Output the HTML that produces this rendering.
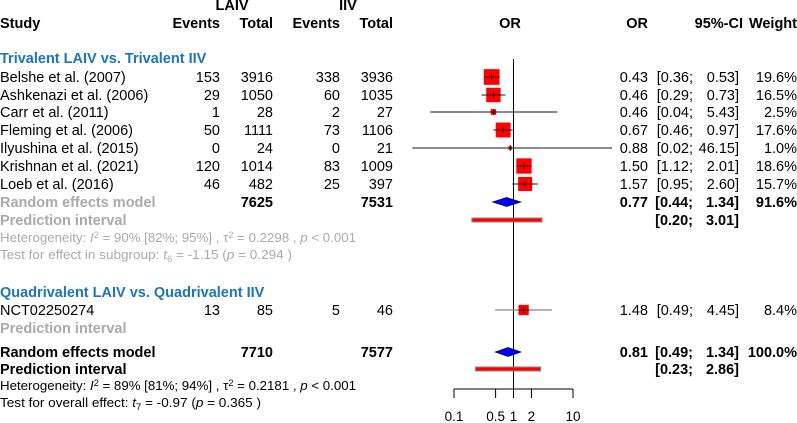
<!DOCTYPE html>
<html><head><meta charset="utf-8"><style>
html,body{margin:0;padding:0;background:#fff;}
svg{display:block;font-family:"Liberation Sans",Arial,sans-serif;}
</style></head><body>
<svg id="plot" width="797" height="423" viewBox="0 0 797 423" xmlns="http://www.w3.org/2000/svg">
<g id="hdr" font-size="14.5" font-weight="bold" fill="#000">
<text x="232" y="10" text-anchor="middle">LAIV</text>
<text x="348" y="10" text-anchor="middle">IIV</text>
<text x="0" y="28">Study</text>
<text x="220" y="28" text-anchor="end">Events</text>
<text x="273" y="28" text-anchor="end">Total</text>
<text x="340" y="28" text-anchor="end">Events</text>
<text x="393" y="28" text-anchor="end">Total</text>
<text x="510" y="28" text-anchor="middle">OR</text>
<text x="648" y="28" text-anchor="end">OR</text>
<text x="743" y="28" text-anchor="end">95%-CI</text>
<text x="797" y="28" text-anchor="end">Weight</text>
</g>
<g id="body"></g>
</svg>
<script>
const studies = ["Belshe et al. (2007)","Ashkenazi et al. (2006)","Carr et al. (2011)","Fleming et al. (2006)","Ilyushina et al. (2015)","Krishnan et al. (2021)","Loeb et al. (2016)","NCT02250274"];
const laivEvents = [153,29,1,50,0,120,46,13];
const laivTotal = [3916,1050,28,1111,24,1014,482,85];
const iivEvents = [338,60,2,73,0,83,25,5];
const iivTotal = [3936,1035,27,1106,21,1009,397,46];
const orVals = [0.43,0.46,0.46,0.67,0.88,1.50,1.57,1.48];
const ciLow = [0.36,0.29,0.04,0.46,0.02,1.12,0.95,0.49];
const ciHigh = [0.53,0.73,5.43,0.97,46.15,2.01,2.60,4.45];
const weights = [19.6,16.5,2.5,17.6,1.0,18.6,15.7,8.4];
const rowY = [77,95,112,130,148,166,184,310];
const pooledOR = [0.77,0.81];
const pooledLow = [0.44,0.49];
const pooledHigh = [1.34,1.34];
const pooledW = ["91.6%","100.0%"];
const pooledTotLaiv = [7625,7710];
const pooledTotIiv = [7531,7577];
const pooledY = [202,352];
const predLow = [0.20,0.23];
const predHigh = [3.01,2.86];
const predY = [220,369];
const ticks = [0.1,0.5,1,2,10];
const tickLabels = ["0.1","0.5","1","2","10"];

const NS="http://www.w3.org/2000/svg";
const g=document.getElementById('body');
const X=v=>513.5+59.5*Math.log10(v);
function el(tag,attrs,txt){const e=document.createElementNS(NS,tag);for(const k in attrs)e.setAttribute(k,attrs[k]);if(txt!==undefined)e.textContent=txt;g.appendChild(e);return e;}
function T(x,y,s,o){o=o||{};const a={x:x,y:y,'font-size':o.fs||14.5,fill:o.fill||'#000'};if(o.anchor)a['text-anchor']=o.anchor;if(o.bold)a['font-weight']='bold';return el('text',a,s);}
const f2=v=>v.toFixed(2);

let ln=el('line',{x1:X(1),x2:X(1),y1:59,y2:389,stroke:'#000','stroke-width':1});



let t=T(0,63,'Trivalent LAIV vs. Trivalent IIV',{bold:1,fill:'#1b75bc'});


t=T(0,297,'Quadrivalent LAIV vs. Quadrivalent IIV',{bold:1,fill:'#1b75bc'});



for(let i=0;i<studies.length;i++){
  const y=rowY[i], b=y+5;
  t=T(0,b,studies[i]);
  
  
  T(220,b,String(laivEvents[i]),{anchor:'end'});
  T(273,b,String(laivTotal[i]),{anchor:'end'});
  T(340,b,String(iivEvents[i]),{anchor:'end'});
  T(393,b,String(iivTotal[i]),{anchor:'end'});
  T(648,b,f2(orVals[i]),{anchor:'end'});
  T(693,b,'['+f2(ciLow[i])+';',{anchor:'end'});
  T(739,b,f2(ciHigh[i])+']',{anchor:'end'});
  T(797,b,weights[i].toFixed(1)+'%',{anchor:'end'});
  const x1=Math.max(X(ciLow[i]),407), x2=Math.min(X(ciHigh[i]),612);
  const ci=el('line',{x1:x1,x2:x2,y1:y,y2:y,stroke:i==7?'#888':'#444','stroke-width':1.2});
  
  
  const s=3.55*Math.sqrt(weights[i]);
  const bx=el('rect',{x:X(orVals[i])-s/2,y:y-s/2,width:s,height:s,fill:'#ff0000'});
  
  
  el('line',{x1:X(orVals[i])-s/2,x2:X(orVals[i])+s/2,y1:y,y2:y,stroke:'#000','stroke-width':0.8});
  el('line',{x1:X(orVals[i]),x2:X(orVals[i]),y1:y-3,y2:y+3,stroke:'#000','stroke-width':0.8});
}

for(let j=0;j<2;j++){
  const y=pooledY[j], b=y+5, grey=j==0;
  const c=grey?'#aaaaaa':'#000';
  t=T(0,b,'Random effects model',{bold:1,fill:c});
  
  
  T(273,b,String(pooledTotLaiv[j]),{anchor:'end',bold:1});
  T(393,b,String(pooledTotIiv[j]),{anchor:'end',bold:1});
  T(648,b,f2(pooledOR[j]),{anchor:'end',bold:1});
  T(693,b,'['+f2(pooledLow[j])+';',{anchor:'end',bold:1});
  T(739,b,f2(pooledHigh[j])+']',{anchor:'end',bold:1});
  T(797,b,pooledW[j],{anchor:'end',bold:1});
  const d=el('polygon',{points:`${X(pooledLow[j])},${y} ${X(pooledOR[j])},${y-4.5} ${X(pooledHigh[j])},${y} ${X(pooledOR[j])},${y+4.5}`,fill:'#0000ff',stroke:'#000','stroke-width':0.6});
  
  
  const py=predY[j];
  t=T(0,py+5,'Prediction interval',{bold:1,fill:c});
  
  
  T(693,py+5,'['+f2(predLow[j])+';',{anchor:'end',bold:1});
  T(739,py+5,f2(predHigh[j])+']',{anchor:'end',bold:1});
  const pr=el('rect',{x:X(predLow[j]),y:py-2,width:X(predHigh[j])-X(predLow[j]),height:4,fill:'#ff0000',stroke:'#888','stroke-width':1});
  
  
}
t=T(0,333,'Prediction interval',{bold:1,fill:'#aaaaaa'});



function stat(y,html,len,fill){const e=document.createElementNS(NS,'text');e.setAttribute('x',0);e.setAttribute('y',y);e.setAttribute('font-size',13);e.setAttribute('fill',fill);e.setAttribute('textLength',len);e.setAttribute('lengthAdjust','spacingAndGlyphs');e.innerHTML=html;g.appendChild(e);return e;}
t=stat(242,'Heterogeneity:  <tspan font-style="italic">I</tspan><tspan dy="-4" font-size="9">2</tspan><tspan dy="4"> = 90% [82%; 95%] , τ</tspan><tspan dy="-4" font-size="9">2</tspan><tspan dy="4"> = 0.2298 , </tspan><tspan font-style="italic">p</tspan> &lt; 0.001',356,'#aaaaaa');


t=stat(259,'Test for effect in subgroup:   <tspan font-style="italic">t</tspan><tspan dy="3" font-size="9">6</tspan><tspan dy="-3"> = -1.15 (</tspan><tspan font-style="italic">p</tspan> = 0.294 )',292,'#aaaaaa');


t=stat(390,'Heterogeneity:  <tspan font-style="italic">I</tspan><tspan dy="-4" font-size="9">2</tspan><tspan dy="4"> = 89% [81%; 94%] , τ</tspan><tspan dy="-4" font-size="9">2</tspan><tspan dy="4"> = 0.2181 , </tspan><tspan font-style="italic">p</tspan> &lt; 0.001',356,'#000');


t=stat(407,'Test for overall effect:   <tspan font-style="italic">t</tspan><tspan dy="3" font-size="9">7</tspan><tspan dy="-3"> = -0.97 (</tspan><tspan font-style="italic">p</tspan> = 0.365 )',261,'#000');



const ax=el('line',{x1:X(ticks[0]),x2:X(ticks[ticks.length-1]),y1:389,y2:389,stroke:'#000','stroke-width':1});


for(let k=0;k<ticks.length;k++){
  el('line',{x1:X(ticks[k]),x2:X(ticks[k]),y1:389,y2:398,stroke:'#000','stroke-width':1});
  const tl=T(X(ticks[k]),421,tickLabels[k],{anchor:'middle',fs:13.5});
  
  
}
</script>
</body></html>
